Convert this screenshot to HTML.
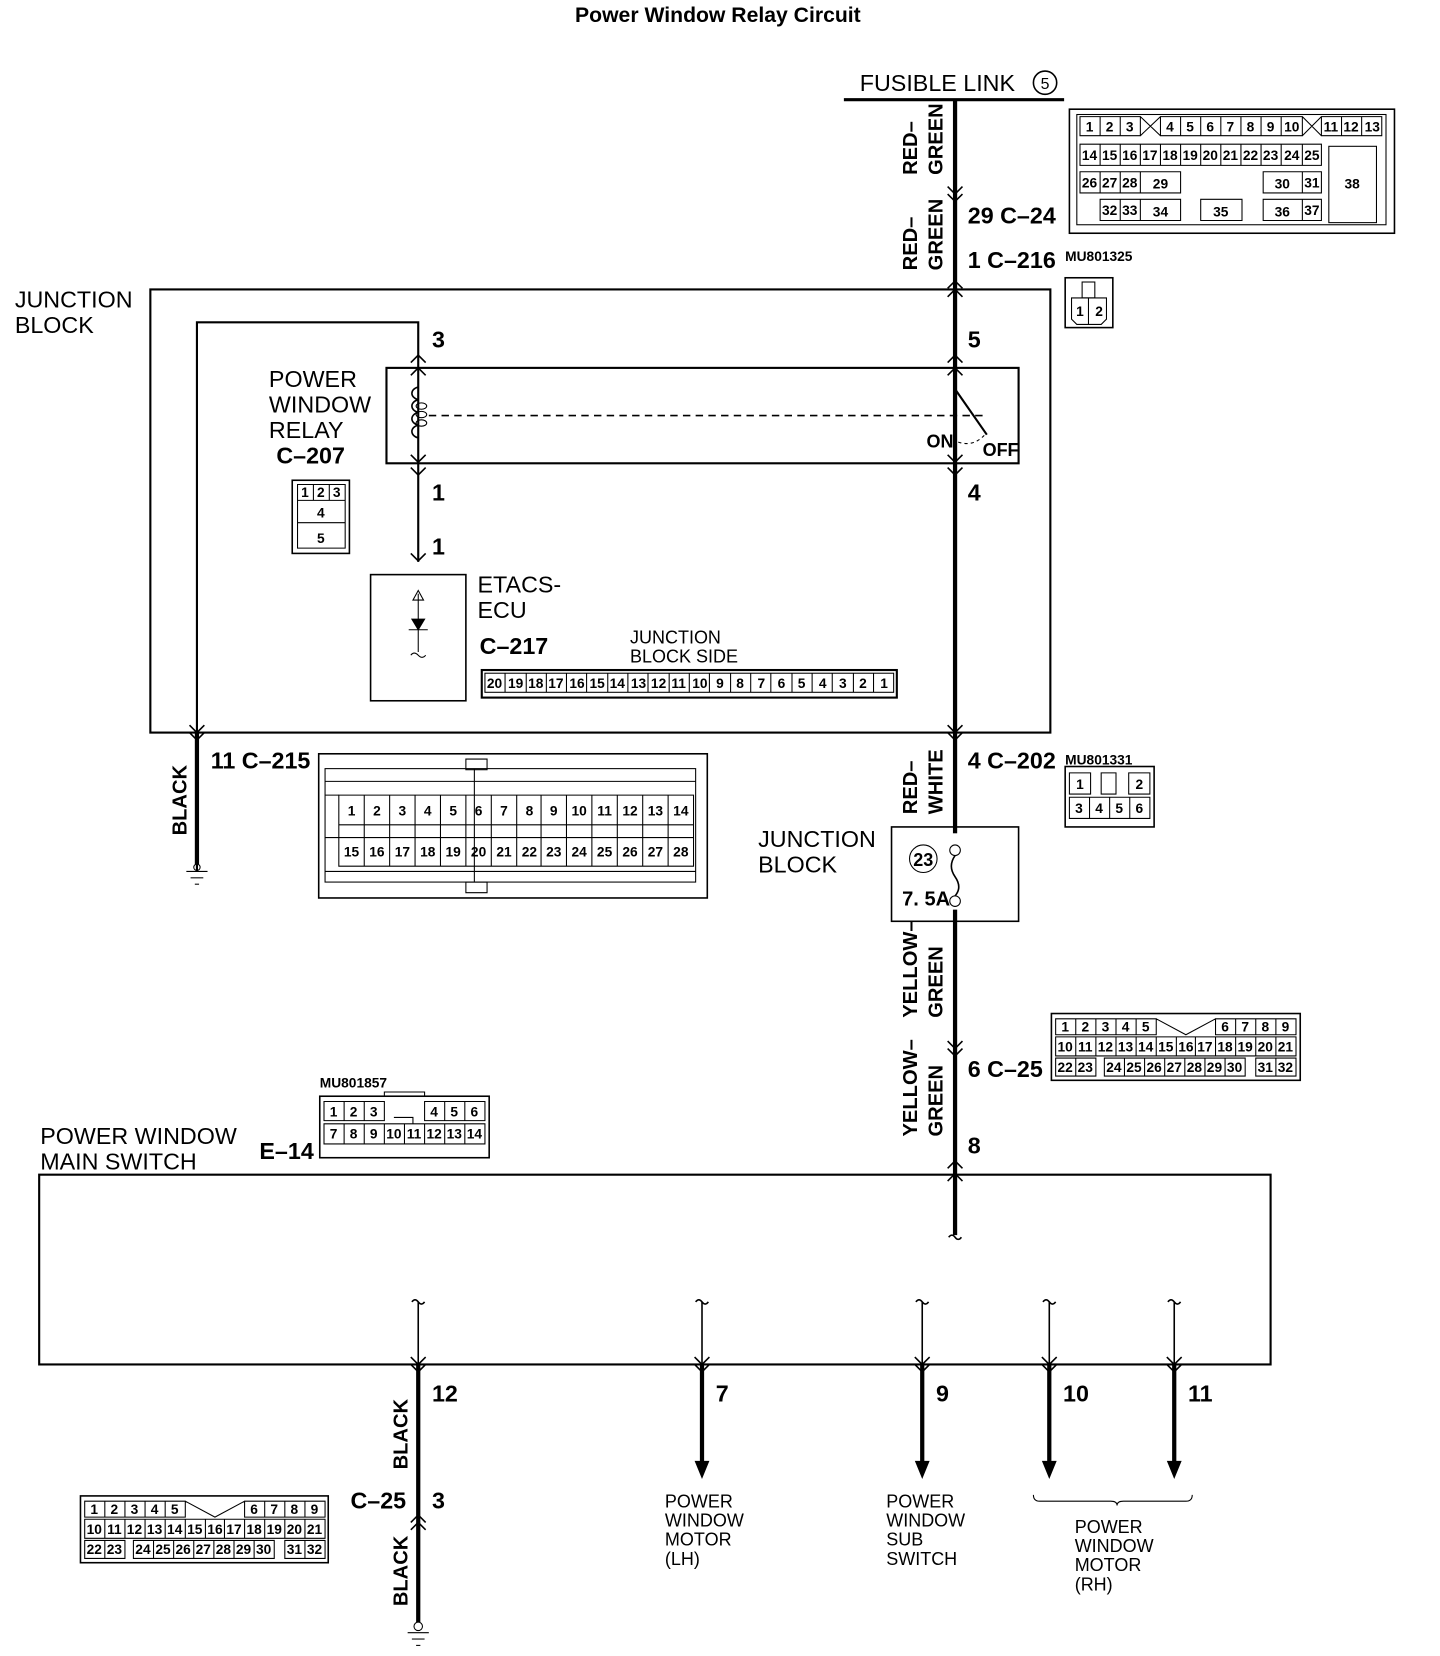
<!DOCTYPE html>
<html><head><meta charset="utf-8"><style>
html,body{margin:0;padding:0;background:#fff;}
svg{display:block;}
text{font-family:"Liberation Sans",sans-serif;fill:#000;}
.t{font-size:22px;}
.b{font-size:22px;font-weight:bold;}
.n{font-size:13px;font-weight:bold;text-anchor:middle;}
.s{font-size:17px;}
</style></head><body>
<svg width="1440" height="1656" viewBox="0 0 1360 1562" preserveAspectRatio="none" xmlns="http://www.w3.org/2000/svg">
<g stroke="#000" fill="none">
<!-- main vertical line -->
<line x1="902" y1="94" x2="902" y2="1165" stroke-width="4"/>
<line x1="797" y1="94" x2="1005" y2="94" stroke-width="3"/>
<!-- junction block -->
<rect x="142" y="273" width="850" height="418" stroke-width="2"/>
<polyline points="186,822 186,304 395,304 395,530" stroke-width="2"/>
<line x1="186" y1="691" x2="186" y2="815" stroke-width="4"/>
<!-- relay -->
<rect x="365" y="347" width="597" height="90" stroke-width="2"/>
<line x1="405" y1="392" x2="930" y2="392" stroke-dasharray="7,5" stroke-width="1.5"/>
<path d="M395,365 c-8,2 -8,10 0,12 m0,0 c-8,2 -8,10 0,12 m0,0 c-8,2 -8,10 0,12 m0,0 c-8,2 -8,10 0,12" stroke-width="1.5"/>
<ellipse cx="398" cy="383" rx="5" ry="3"/><ellipse cx="398" cy="391" rx="5" ry="3"/><ellipse cx="398" cy="399" rx="5" ry="3"/>
<line x1="902" y1="367" x2="932" y2="410" stroke-width="2"/>
<path d="M905,417 q15,5 26,-8" stroke-dasharray="3,3"/>
<!-- ETACS box -->
<rect x="350" y="542" width="90" height="119" stroke-width="1.5"/>
<line x1="395" y1="560" x2="395" y2="615"/>
<path d="M395,557 l-5,9 h10 z"/>
<path d="M386,594 h18 M389,584 h12 l-6,10 z" fill="#000"/>
<path d="M388,618 q3,-4 7,0 t7,0"/>
<!-- C-217 strip -->
<rect x="455" y="632" width="392" height="26" stroke-width="2"/>
<rect x="458" y="635" width="386" height="18"/>
<!-- ground left -->
<line x1="176" y1="822" x2="196" y2="822"/><line x1="180" y1="828" x2="192" y2="828"/><line x1="184" y1="834" x2="188" y2="834"/>
<circle cx="186" cy="818" r="3"/>
<!-- fuse box -->
<rect x="842" y="780" width="120" height="89" stroke-width="1.5"/>
<rect x="898" y="786" width="8" height="72" fill="#fff" stroke="none"/>
<circle cx="902" cy="802" r="5" fill="#fff"/><circle cx="902" cy="850" r="5" fill="#fff"/>
<path d="M902,807 q-7,10 0,20 q7,10 0,18" stroke-width="1.5"/>
<circle cx="872" cy="810" r="13"/>
<!-- main switch -->
<rect x="37" y="1108" width="1163" height="179" stroke-width="2"/>
<g stroke-width="1.5">
<line x1="395" y1="1228" x2="395" y2="1287"/><line x1="663" y1="1228" x2="663" y2="1287"/><line x1="871" y1="1228" x2="871" y2="1287"/><line x1="991" y1="1228" x2="991" y2="1287"/><line x1="1109" y1="1228" x2="1109" y2="1287"/>
<path d="M389,1228 q3,-4 6,0 t6,0 M657,1228 q3,-4 6,0 t6,0 M865,1228 q3,-4 6,0 t6,0 M985,1228 q3,-4 6,0 t6,0 M1103,1228 q3,-4 6,0 t6,0 M896,1167 q3,-4 6,0 t6,0"/>
</g>
<g stroke-width="4">
<line x1="395" y1="1287" x2="395" y2="1530"/>
<line x1="663" y1="1287" x2="663" y2="1380"/><line x1="871" y1="1287" x2="871" y2="1380"/><line x1="991" y1="1287" x2="991" y2="1380"/><line x1="1109" y1="1287" x2="1109" y2="1380"/>
</g>
<g fill="#000" stroke="none">
<path d="M656,1378 h14 l-7,17 z M864,1378 h14 l-7,17 z M984,1378 h14 l-7,17 z M1102,1378 h14 l-7,17 z"/>
</g>
<circle cx="395" cy="1534" r="4" fill="#fff"/>
<line x1="385" y1="1540" x2="405" y2="1540"/><line x1="389" y1="1546" x2="401" y2="1546"/><line x1="393" y1="1552" x2="397" y2="1552"/>
<path d="M976,1410 q0,6 6,6 h67 q6,0 6,4 q0,-4 6,-4 h59 q6,0 6,-6"/>
<!-- chevrons -->
<g stroke-width="1.5">
<path d="M895,176 l7,7 l7,-7 M895,183 l7,7 l7,-7"/>
<path d="M895,272 l7,-7 l7,7 M895,280 l7,-7 l7,7"/>
<path d="M388,342 l7,-7 l7,7 M388,354 l7,-7 l7,7 M895,342 l7,-7 l7,7 M895,354 l7,-7 l7,7"/>
<path d="M388,429 l7,7 l7,-7 M388,441 l7,7 l7,-7 M895,429 l7,7 l7,-7 M895,441 l7,7 l7,-7"/>
<path d="M388,522 l7,7 l7,-7"/>
<path d="M179,684 l7,7 l7,-7 M179,691 l7,7 l7,-7 M895,684 l7,7 l7,-7 M895,691 l7,7 l7,-7"/>
<path d="M895,982 l7,7 l7,-7 M895,989 l7,7 l7,-7"/>
<path d="M895,1102 l7,-7 l7,7 M895,1114 l7,-7 l7,7"/>
<path d="M388,1280 l7,7 l7,-7 M388,1287 l7,7 l7,-7 M656,1280 l7,7 l7,-7 M656,1287 l7,7 l7,-7 M864,1280 l7,7 l7,-7 M864,1287 l7,7 l7,-7 M984,1280 l7,7 l7,-7 M984,1287 l7,7 l7,-7 M1102,1280 l7,7 l7,-7 M1102,1287 l7,7 l7,-7"/>
<path d="M388,1436 l7,-7 l7,7 M388,1443 l7,-7 l7,7"/>
</g>
<!-- connectors outlines -->
<rect x="1010" y="103" width="307" height="117" stroke-width="1.5"/>
<rect x="1017" y="108" width="292" height="104"/>
<rect x="1255" y="138" width="45" height="72"/>
<rect x="1006" y="262" width="45" height="47" stroke-width="1.5"/>
<rect x="1022" y="266" width="12" height="15"/>
<path d="M1012,281 h33 v20 l-5,5 h-23 l-5,-5 z M1028,281 v25"/>
<rect x="276" y="453" width="54" height="69" stroke-width="1.5"/>
<path d="M281,457 h45 v15 h-45 z M281,472 h45 v21 h-45 z M281,493 h45 v24 h-45 z M296,457 v15 M311,457 v15"/>
<rect x="301" y="711" width="367" height="136" stroke-width="1.5"/>
<rect x="307" y="725" width="350" height="107"/>
<rect x="1006" y="723" width="84" height="57" stroke-width="1.5"/>
<path d="M1010,729 h20 v20 h-20 z M1066,729 h20 v20 h-20 z M1040,729 h14 v20 h-14 z M1010,752 h76 v20 h-76 z M1029,752 v20 M1048,752 v20 M1067,752 v20"/>
<rect x="993" y="956" width="235" height="63" stroke-width="1.5"/>
<rect x="302" y="1034" width="160" height="58" stroke-width="1.5"/>
<rect x="76" y="1411" width="234" height="63" stroke-width="1.5"/>
</g>
<g stroke="#000" fill="none" stroke-width="1">
<!-- C-24 cells -->
<path d="M1020,110 h57 v18 h-57 z M1039,110 v18 M1058,110 v18 M1096,110 h134 v18 h-134 z M1248,110 h57 v18 h-57 z M1267,110 v18 M1286,110 v18 M1077,110 l19,18 M1096,110 l-19,18 M1230,110 l18,18 M1248,110 l-18,18"/>
<path d="M1115,110 v18 M1134,110 v18 M1153,110 v18 M1172,110 v18 M1191,110 v18 M1210,110 v18"/>
<path d="M1020,136 h228 v20 h-228 z M1039,136 v20 M1058,136 v20 M1077,136 v20 M1096,136 v20 M1115,136 v20 M1134,136 v20 M1153,136 v20 M1172,136 v20 M1191,136 v20 M1210,136 v20 M1230,136 v20"/>
<path d="M1020,162 h95 v20 h-95 z M1039,162 v20 M1058,162 v20 M1077,162 v20 M1193,162 h55 v20 h-55 z M1230,162 v20"/>
<path d="M1039,188 h76 v20 h-76 z M1058,188 v20 M1077,188 v20 M1134,188 h39 v20 h-39 z M1193,188 h55 v20 h-55 z M1230,188 v20"/>
<!-- C-217 cells -->
<path d="M477,635 v18 M497,635 v18 M516,635 v18 M535,635 v18 M554,635 v18 M574,635 v18 M593,635 v18 M612,635 v18 M632,635 v18 M651,635 v18 M670,635 v18 M690,635 v18 M709,635 v18 M728,635 v18 M748,635 v18 M767,635 v18 M786,635 v18 M806,635 v18 M825,635 v18"/>
<!-- C-215 cells -->
<path d="M320,750 h335 v28 h-335 z M320,790 h335 v27 h-335 z M320,778 v12 M655,778 v12"/>
<path d="M344,750 v67 M368,750 v67 M392,750 v67 M416,750 v67 M440,750 v67 M464,750 v67 M488,750 v67 M511,750 v67 M535,750 v67 M559,750 v67 M583,750 v67 M607,750 v67 M631,750 v67"/>
<path d="M307,737 h350 M307,822 h350 M440,716 h20 v10 h-20 z M440,832 h20 v10 h-20 z M448,725 v107 M307,750 h13 M307,790 h13"/>
<!-- C-25 cells -->
<path d="M997,961 h95 v15 h-95 z M1016,961 v15 M1035,961 v15 M1054,961 v15 M1073,961 v15 M1092,961 l28,15 l28,-15 M1148,961 h76 v15 h-76 z M1167,961 v15 M1186,961 v15 M1205,961 v15"/>
<path d="M997,978 h227 v18 h-227 z M1016,978 v18 M1035,978 v18 M1054,978 v18 M1073,978 v18 M1092,978 v18 M1111,978 v18 M1129,978 v18 M1148,978 v18 M1167,978 v18 M1186,978 v18 M1205,978 v18"/>
<path d="M997,998 h38 v17 h-38 z M1016,998 v17 M1043,998 h133 v17 h-133 z M1062,998 v17 M1081,998 v17 M1100,998 v17 M1119,998 v17 M1138,998 v17 M1157,998 v17 M1186,998 h38 v17 h-38 z M1205,998 v17"/>
<!-- bottom C-25 -->
<path d="M80,1416 h95 v15 h-95 z M99,1416 v15 M118,1416 v15 M137,1416 v15 M156,1416 v15 M175,1416 l28,15 l28,-15 M231,1416 h76 v15 h-76 z M250,1416 v15 M269,1416 v15 M288,1416 v15"/>
<path d="M80,1433 h227 v18 h-227 z M99,1433 v18 M118,1433 v18 M137,1433 v18 M156,1433 v18 M175,1433 v18 M194,1433 v18 M212,1433 v18 M231,1433 v18 M250,1433 v18 M269,1433 v18 M288,1433 v18"/>
<path d="M80,1453 h38 v17 h-38 z M99,1453 v17 M126,1453 h133 v17 h-133 z M145,1453 v17 M164,1453 v17 M183,1453 v17 M202,1453 v17 M221,1453 v17 M240,1453 v17 M269,1453 h38 v17 h-38 z M288,1453 v17"/>
<!-- E-14 -->
<path d="M306,1039 h57 v18 h-57 z M325,1039 v18 M344,1039 v18 M401,1039 h57 v18 h-57 z M420,1039 v18 M439,1039 v18 M306,1060 h152 v19 h-152 z M325,1060 v19 M344,1060 v19 M363,1060 v19 M382,1060 v19 M401,1060 v19 M420,1060 v19 M439,1060 v19 M363,1034 v-4 h38 v4 M372,1054 h18 v6"/>
</g>
<!-- texts -->
<text x="678" y="21" text-anchor="middle" style="font-size:20px;font-weight:bold">Power Window Relay Circuit</text>
<text class="t" x="812" y="86">FUSIBLE LINK</text>
<circle cx="987" cy="78" r="11" fill="none" stroke="#000" stroke-width="1.5"/>
<text x="987" y="84" text-anchor="middle" style="font-size:15px">5</text>
<g class="b" font-size="22">
<text class="b" x="914" y="211">29  C–24</text>
<text class="b" x="914" y="253">1  C–216</text>
<text class="b" x="408" y="328">3</text><text class="b" x="914" y="328">5</text>
<text class="b" x="408" y="472">1</text><text class="b" x="914" y="472">4</text>
<text class="b" x="408" y="523">1</text>
<text class="b" x="261" y="437">C–207</text>
<text class="b" x="453" y="617">C–217</text>
<text class="b" x="199" y="725">11  C–215</text>
<text class="b" x="914" y="725">4  C–202</text>
<text class="b" x="914" y="1016">6  C–25</text>
<text class="b" x="914" y="1088">8</text>
<text class="b" x="245" y="1093">E–14</text>
<text class="b" x="408" y="1322">12</text><text class="b" x="676" y="1322">7</text><text class="b" x="884" y="1322">9</text><text class="b" x="1004" y="1322">10</text><text class="b" x="1122" y="1322">11</text>
<text class="b" x="331" y="1423">C–25</text><text class="b" x="408" y="1423">3</text>
<text class="b" x="852" y="854" style="font-size:19px">7. 5A</text>
<text class="b" x="872" y="817" text-anchor="middle" style="font-size:17px">23</text>
</g>
<text class="t" x="14" y="290">JUNCTION</text><text class="t" x="14" y="314">BLOCK</text>
<text class="t" x="254" y="365">POWER</text><text class="t" x="254" y="389">WINDOW</text><text class="t" x="254" y="413">RELAY</text>
<text class="t" x="451" y="559">ETACS-</text><text class="t" x="451" y="583">ECU</text>
<text class="s" x="595" y="607">JUNCTION</text><text class="s" x="595" y="625">BLOCK SIDE</text>
<text class="t" x="716" y="799">JUNCTION</text><text class="t" x="716" y="823">BLOCK</text>
<text class="t" x="38" y="1079">POWER WINDOW</text><text class="t" x="38" y="1103">MAIN SWITCH</text>
<g class="s"><text class="s" x="628" y="1422">POWER</text><text class="s" x="628" y="1440">WINDOW</text><text class="s" x="628" y="1458">MOTOR</text><text class="s" x="628" y="1476">(LH)</text>
<text class="s" x="837" y="1422">POWER</text><text class="s" x="837" y="1440">WINDOW</text><text class="s" x="837" y="1458">SUB</text><text class="s" x="837" y="1476">SWITCH</text>
<text class="s" x="1015" y="1446">POWER</text><text class="s" x="1015" y="1464">WINDOW</text><text class="s" x="1015" y="1482">MOTOR</text><text class="s" x="1015" y="1500">(RH)</text></g>
<text x="875" y="422" style="font-size:17px;font-weight:bold">ON</text><text x="928" y="430" style="font-size:17px;font-weight:bold">OFF</text>
<g style="font-size:13px;font-weight:bold"><text x="1006" y="246">MU801325</text><text x="1006" y="721">MU801331</text><text x="302" y="1026">MU801857</text></g>
<!-- rotated wire labels -->
<g style="font-size:19px;font-weight:bold">
<text transform="translate(866,165) rotate(-90)">RED–</text><text transform="translate(890,165) rotate(-90)">GREEN</text>
<text transform="translate(866,255) rotate(-90)">RED–</text><text transform="translate(890,255) rotate(-90)">GREEN</text>
<text transform="translate(866,768) rotate(-90)">RED–</text><text transform="translate(890,768) rotate(-90)">WHITE</text>
<text transform="translate(866,960) rotate(-90)">YELLOW–</text><text transform="translate(890,960) rotate(-90)">GREEN</text>
<text transform="translate(866,1072) rotate(-90)">YELLOW–</text><text transform="translate(890,1072) rotate(-90)">GREEN</text>
<text transform="translate(176,788) rotate(-90)">BLACK</text>
<text transform="translate(385,1386) rotate(-90)">BLACK</text>
<text transform="translate(385,1515) rotate(-90)">BLACK</text>
</g>
<!-- connector numbers -->
<g class="n">
<text class="n" x="1029" y="124">1</text><text class="n" x="1048" y="124">2</text><text class="n" x="1067" y="124">3</text><text class="n" x="1105" y="124">4</text><text class="n" x="1124" y="124">5</text><text class="n" x="1143" y="124">6</text><text class="n" x="1162" y="124">7</text><text class="n" x="1181" y="124">8</text><text class="n" x="1200" y="124">9</text><text class="n" x="1220" y="124">10</text><text class="n" x="1257" y="124">11</text><text class="n" x="1276" y="124">12</text><text class="n" x="1296" y="124">13</text>
<text class="n" x="1029" y="151">14</text><text class="n" x="1048" y="151">15</text><text class="n" x="1067" y="151">16</text><text class="n" x="1086" y="151">17</text><text class="n" x="1105" y="151">18</text><text class="n" x="1124" y="151">19</text><text class="n" x="1143" y="151">20</text><text class="n" x="1162" y="151">21</text><text class="n" x="1181" y="151">22</text><text class="n" x="1200" y="151">23</text><text class="n" x="1220" y="151">24</text><text class="n" x="1239" y="151">25</text>
<text class="n" x="1029" y="177">26</text><text class="n" x="1048" y="177">27</text><text class="n" x="1067" y="177">28</text><text class="n" x="1096" y="178">29</text><text class="n" x="1211" y="178">30</text><text class="n" x="1239" y="177">31</text><text class="n" x="1277" y="178">38</text>
<text class="n" x="1048" y="203">32</text><text class="n" x="1067" y="203">33</text><text class="n" x="1096" y="204">34</text><text class="n" x="1153" y="204">35</text><text class="n" x="1211" y="204">36</text><text class="n" x="1239" y="203">37</text>
<text class="n" x="1020" y="298">1</text><text class="n" x="1038" y="298">2</text>
<text class="n" x="288" y="469">1</text><text class="n" x="303" y="469">2</text><text class="n" x="318" y="469">3</text><text class="n" x="303" y="488">4</text><text class="n" x="303" y="512">5</text>
<text class="n" x="467" y="649">20</text><text class="n" x="487" y="649">19</text><text class="n" x="506" y="649">18</text><text class="n" x="525" y="649">17</text><text class="n" x="545" y="649">16</text><text class="n" x="564" y="649">15</text><text class="n" x="583" y="649">14</text><text class="n" x="603" y="649">13</text><text class="n" x="622" y="649">12</text><text class="n" x="641" y="649">11</text><text class="n" x="661" y="649">10</text><text class="n" x="680" y="649">9</text><text class="n" x="699" y="649">8</text><text class="n" x="719" y="649">7</text><text class="n" x="738" y="649">6</text><text class="n" x="757" y="649">5</text><text class="n" x="777" y="649">4</text><text class="n" x="796" y="649">3</text><text class="n" x="815" y="649">2</text><text class="n" x="835" y="649">1</text>
<text class="n" x="332" y="769">1</text><text class="n" x="356" y="769">2</text><text class="n" x="380" y="769">3</text><text class="n" x="404" y="769">4</text><text class="n" x="428" y="769">5</text><text class="n" x="452" y="769">6</text><text class="n" x="476" y="769">7</text><text class="n" x="500" y="769">8</text><text class="n" x="523" y="769">9</text><text class="n" x="547" y="769">10</text><text class="n" x="571" y="769">11</text><text class="n" x="595" y="769">12</text><text class="n" x="619" y="769">13</text><text class="n" x="643" y="769">14</text>
<text class="n" x="332" y="808">15</text><text class="n" x="356" y="808">16</text><text class="n" x="380" y="808">17</text><text class="n" x="404" y="808">18</text><text class="n" x="428" y="808">19</text><text class="n" x="452" y="808">20</text><text class="n" x="476" y="808">21</text><text class="n" x="500" y="808">22</text><text class="n" x="523" y="808">23</text><text class="n" x="547" y="808">24</text><text class="n" x="571" y="808">25</text><text class="n" x="595" y="808">26</text><text class="n" x="619" y="808">27</text><text class="n" x="643" y="808">28</text>
<text class="n" x="1020" y="744">1</text><text class="n" x="1076" y="744">2</text><text class="n" x="1019" y="767">3</text><text class="n" x="1038" y="767">4</text><text class="n" x="1057" y="767">5</text><text class="n" x="1076" y="767">6</text>
<text class="n" x="1006" y="973">1</text><text class="n" x="1025" y="973">2</text><text class="n" x="1044" y="973">3</text><text class="n" x="1063" y="973">4</text><text class="n" x="1082" y="973">5</text><text class="n" x="1157" y="973">6</text><text class="n" x="1176" y="973">7</text><text class="n" x="1195" y="973">8</text><text class="n" x="1214" y="973">9</text>
<text class="n" x="1006" y="992">10</text><text class="n" x="1025" y="992">11</text><text class="n" x="1044" y="992">12</text><text class="n" x="1063" y="992">13</text><text class="n" x="1082" y="992">14</text><text class="n" x="1101" y="992">15</text><text class="n" x="1120" y="992">16</text><text class="n" x="1138" y="992">17</text><text class="n" x="1157" y="992">18</text><text class="n" x="1176" y="992">19</text><text class="n" x="1195" y="992">20</text><text class="n" x="1214" y="992">21</text>
<text class="n" x="1006" y="1011">22</text><text class="n" x="1025" y="1011">23</text><text class="n" x="1052" y="1011">24</text><text class="n" x="1071" y="1011">25</text><text class="n" x="1090" y="1011">26</text><text class="n" x="1109" y="1011">27</text><text class="n" x="1128" y="1011">28</text><text class="n" x="1147" y="1011">29</text><text class="n" x="1166" y="1011">30</text><text class="n" x="1195" y="1011">31</text><text class="n" x="1214" y="1011">32</text>
<text class="n" x="89" y="1428">1</text><text class="n" x="108" y="1428">2</text><text class="n" x="127" y="1428">3</text><text class="n" x="146" y="1428">4</text><text class="n" x="165" y="1428">5</text><text class="n" x="240" y="1428">6</text><text class="n" x="259" y="1428">7</text><text class="n" x="278" y="1428">8</text><text class="n" x="297" y="1428">9</text>
<text class="n" x="89" y="1447">10</text><text class="n" x="108" y="1447">11</text><text class="n" x="127" y="1447">12</text><text class="n" x="146" y="1447">13</text><text class="n" x="165" y="1447">14</text><text class="n" x="184" y="1447">15</text><text class="n" x="203" y="1447">16</text><text class="n" x="221" y="1447">17</text><text class="n" x="240" y="1447">18</text><text class="n" x="259" y="1447">19</text><text class="n" x="278" y="1447">20</text><text class="n" x="297" y="1447">21</text>
<text class="n" x="89" y="1466">22</text><text class="n" x="108" y="1466">23</text><text class="n" x="135" y="1466">24</text><text class="n" x="154" y="1466">25</text><text class="n" x="173" y="1466">26</text><text class="n" x="192" y="1466">27</text><text class="n" x="211" y="1466">28</text><text class="n" x="230" y="1466">29</text><text class="n" x="249" y="1466">30</text><text class="n" x="278" y="1466">31</text><text class="n" x="297" y="1466">32</text>
<text class="n" x="315" y="1053">1</text><text class="n" x="334" y="1053">2</text><text class="n" x="353" y="1053">3</text><text class="n" x="410" y="1053">4</text><text class="n" x="429" y="1053">5</text><text class="n" x="448" y="1053">6</text>
<text class="n" x="315" y="1074">7</text><text class="n" x="334" y="1074">8</text><text class="n" x="353" y="1074">9</text><text class="n" x="372" y="1074">10</text><text class="n" x="391" y="1074">11</text><text class="n" x="410" y="1074">12</text><text class="n" x="429" y="1074">13</text><text class="n" x="448" y="1074">14</text>
</g>
</svg>
</body></html>
